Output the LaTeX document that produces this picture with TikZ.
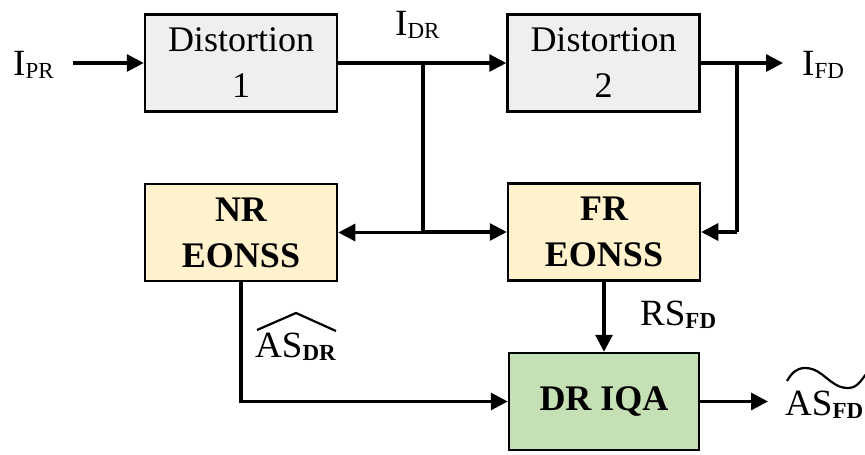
\documentclass[tikz,border=0pt]{standalone}
\usepackage{fontspec}
\setmainfont{LiberationSerif}[Extension=.ttf,UprightFont=*-Regular,BoldFont=*-Bold,ItalicFont=*-Italic,BoldItalicFont=*-BoldItalic]
\usetikzlibrary{arrows.meta,calc}

\definecolor{boxgray}{HTML}{EFEFEF}
\definecolor{boxtan}{HTML}{FFF2CC}
\definecolor{boxgreen}{HTML}{C5E0B4}

% symbol with a lowered, smaller subscript
\newcommand{\symsub}[2]{#1\raisebox{-3pt}{\fontsize{23}{23}\selectfont #2}}

\begin{document}
\begin{tikzpicture}[x=1pt,y=-1pt,
  box/.style={draw=black,line width=2.5pt,minimum width=192pt,minimum height=97pt,
    align=center,inner sep=0pt,font=\fontsize{36}{46}\selectfont},
  distbox/.style={box,fill=boxgray},
  eonssbox/.style={box,fill=boxtan,font=\fontsize{36}{46}\selectfont\bfseries},
  iqabox/.style={box,fill=boxgreen,minimum width=190pt,font=\fontsize{36}{46}\selectfont\bfseries},
  wire/.style={line width=3.2pt},
  flow/.style={wire,-{Triangle[length=17pt,width=17pt]}},
  lab/.style={inner sep=0pt,anchor=base west,font=\fontsize{37}{37}\selectfont},
  accent/.style={line width=2.2pt,line join=miter}
]
\useasboundingbox (0,0) rectangle (865,455);

% blocks
\node[distbox] (d1) at (241,63) {Distortion\\1};
\node[distbox] (d2) at (603.5,63) {Distortion\\2};
\node[eonssbox] (nr) at (241,232.5) {NR\\EONSS};
\node[eonssbox] (fr) at (604,232) {FR\\EONSS};
\node[iqabox] (iqa) at (604,401.5) {DR IQA};

% free ends and branch points
\coordinate (src) at (73,63);
\coordinate (snk) at (783,63);
\coordinate (ja) at (423,63);
\coordinate (jb) at (737,63);
\coordinate (res) at (768,401.5);

% labels
\node[lab] (ipr) at (13,75) {\symsub{I}{PR}};
\node[lab] (idr) at (395,35) {\symsub{I}{DR}};
\node[lab] (ifd) at (802,75) {\symsub{I}{FD}};
\node[lab] (rsfd) at (640,325) {\symsub{RS}{\bfseries FD}};
\node[lab] (asdr) at (255,357) {\symsub{AS}{\bfseries DR}};
\node[lab] (asfd) at (785,415) {\symsub{AS}{\bfseries FD}};

% wide accents over the score labels
\draw[accent] ($(asdr.base west)+(2,-27)$) -- ($(asdr.base west)+(41,-44)$) -- ($(asdr.base west)+(81,-26)$);
\draw[accent] ($(asfd.base west)+(2,-34)$) to[out=60,in=180] ($(asfd.base west)+(20,-47)$)
  to[out=0,in=180] ($(asfd.base west)+(63,-27)$) to[out=0,in=220] ($(asfd.base west)+(86,-46)$);

% main chain
\draw[flow] (src) -- (d1.west);
\draw[flow] (d1.east) -- (d2.west);
\draw[flow] (d2.east) -- (snk);

% references to the quality models
\draw[wire] (ja) -- (ja |- nr.east);
\draw[flow] (ja |- nr.east) -- (nr.east);
\draw[flow] (ja |- fr.west) -- (fr.west);
\draw[wire] (jb) -- (jb |- fr.east);
\draw[flow] (jb |- fr.east) -- (fr.east);

% scores into DR IQA
\draw[flow] (fr.south) -- (iqa.north);
\draw[flow] (nr.south) |- (iqa.west);
\draw[flow] (iqa.east) -- (res);
\end{tikzpicture}
\end{document}
